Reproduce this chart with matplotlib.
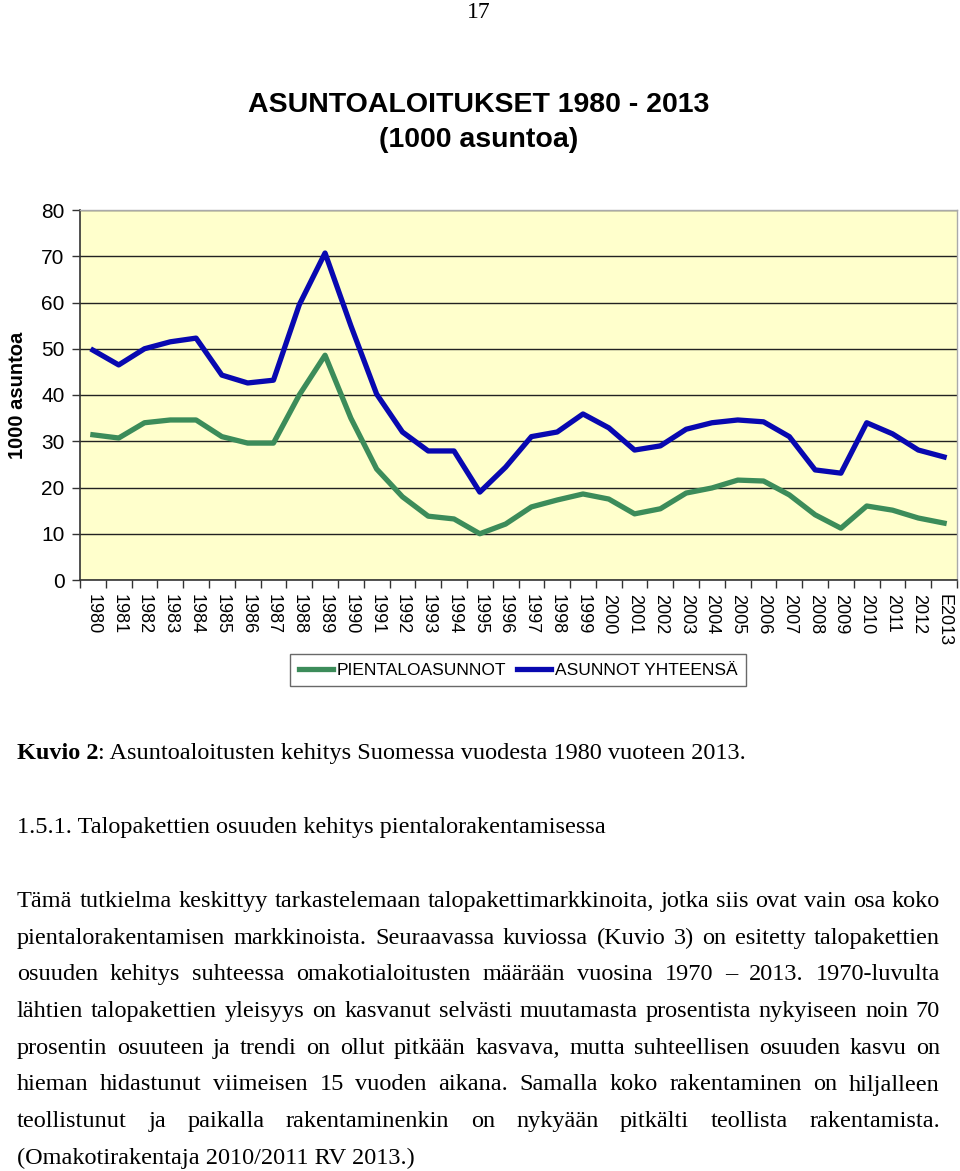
import matplotlib
matplotlib.use("Agg")
import matplotlib.pyplot as plt
import numpy as np

W, H = 960, 1171

years = ["1980", "1981", "1982", "1983", "1984", "1985", "1986", "1987", "1988",
         "1989", "1990", "1991", "1992", "1993", "1994", "1995", "1996", "1997",
         "1998", "1999", "2000", "2001", "2002", "2003", "2004", "2005", "2006",
         "2007", "2008", "2009", "2010", "2011", "2012", "E2013"]

# asunnot yhteensä (1000 asuntoa)
total = [49.7, 46.5, 50.0, 51.5, 52.3, 44.3, 42.6, 43.2, 59.5, 70.7, 55.0, 40.2,
         32.0, 27.9, 27.9, 19.0, 24.4, 31.0, 32.0, 35.9, 32.9, 28.1, 29.0, 32.6,
         34.0, 34.6, 34.2, 31.0, 23.8, 23.1, 34.0, 31.6, 28.1, 26.6]

# pientaloasunnot
detached = [31.4, 30.7, 34.0, 34.6, 34.6, 31.0, 29.6, 29.6, 40.0, 48.6, 35.0, 24.0,
            18.0, 13.8, 13.2, 10.0, 12.1, 15.8, 17.3, 18.6, 17.5, 14.3, 15.4, 18.8,
            19.9, 21.6, 21.4, 18.4, 14.1, 11.2, 16.0, 15.1, 13.4, 12.3]

paragraph = [
    "Tämä tutkielma keskittyy tarkastelemaan talopakettimarkkinoita, jotka siis ovat vain osa koko",
    "pientalorakentamisen markkinoista. Seuraavassa kuviossa (Kuvio 3) on esitetty talopakettien",
    "osuuden kehitys suhteessa omakotialoitusten määrään vuosina 1970 – 2013. 1970-luvulta",
    "lähtien talopakettien yleisyys on kasvanut selvästi muutamasta prosentista nykyiseen noin 70",
    "prosentin osuuteen ja trendi on ollut pitkään kasvava, mutta suhteellisen osuuden kasvu on",
    "hieman hidastunut viimeisen 15 vuoden aikana. Samalla koko rakentaminen on hiljalleen",
    "teollistunut ja paikalla rakentaminenkin on nykyään pitkälti teollista rakentamista.",
    "(Omakotirakentaja 2010/2011 RV 2013.)",
]

SANS = "Liberation Sans"
SERIF = "Liberation Serif"


def px(x, y):
    return x / W, 1 - y / H


def main():
    fig = plt.figure(figsize=(W / 100, H / 100), dpi=100)
    fig.patch.set_facecolor("white")

    ax = fig.add_axes([80 / W, 1 - 580 / H, 877 / W, 370 / H])
    ax.set_facecolor("#FFFFCC")
    x = np.arange(len(years))
    ax.plot(x, detached, color="#3c8c5a", lw=3.8, solid_joinstyle="round",
            label="PIENTALOASUNNOT", zorder=3)
    ax.plot(x, total, color="#0808b0", lw=3.8, solid_joinstyle="round",
            label="ASUNNOT YHTEENSÄ", zorder=3)

    ax.set_xlim(-0.5, len(years) - 0.5)
    ax.set_ylim(0, 80)
    ax.set_yticks(range(0, 81, 10))
    ax.yaxis.grid(True, color="#222222", lw=1.0)
    ax.set_axisbelow(True)
    ax.set_xticks(np.arange(-0.5, len(years), 1.0), minor=False)
    ax.set_xticklabels([])
    ax.set_xticks(x, minor=True)
    ax.set_xticklabels(years, minor=True, rotation=270, fontsize=13,
                       family=SANS, va="top", ha="center")
    ax.tick_params(axis="x", which="major", length=6, width=1, color="#333333")
    ax.tick_params(axis="x", which="minor", length=0, pad=10)
    ax.tick_params(axis="y", length=6, width=1, color="#333333", pad=5,
                   labelsize=15)
    for lab in ax.get_yticklabels():
        lab.set_family(SANS)
    ax.set_ylabel("1000 asuntoa", family=SANS, fontsize=14.5, fontweight="bold",
                  labelpad=10)
    for s in ["left", "bottom"]:
        ax.spines[s].set_color("#333333")
        ax.spines[s].set_linewidth(1.2)
    for s in ["top", "right"]:
        ax.spines[s].set_color("#aaaaaa")
        ax.spines[s].set_linewidth(1.0)

    leg = fig.legend(loc="center", bbox_to_anchor=px(518, 670), ncol=2,
                     frameon=True, fancybox=False, edgecolor="#444444",
                     handlelength=2.0, handletextpad=0.2, columnspacing=0.6,
                     borderpad=0.5, prop={"family": SANS, "size": 12.5})
    leg.get_frame().set_linewidth(1.0)

    fig.text(*px(479, 12), "17", family=SERIF, fontsize=17, ha="center", va="center")
    fig.text(*px(479, 105), "ASUNTOALOITUKSET 1980 - 2013", family=SANS,
             fontsize=20.5, fontweight="bold", ha="center", va="center")
    fig.text(*px(479, 140), "(1000 asuntoa)", family=SANS,
             fontsize=20.5, fontweight="bold", ha="center", va="center")

    fig.canvas.draw()
    renderer = fig.canvas.get_renderer()
    fs = 17.5

    def width_of(t):
        return t.get_window_extent(renderer).width

    # caption
    t = fig.text(*px(17, 759), "Kuvio 2", family=SERIF, fontsize=fs,
                 fontweight="bold", ha="left", va="baseline")
    w = width_of(t)
    fig.text(*px(17 + w, 759), ": Asuntoaloitusten kehitys Suomessa vuodesta 1980 vuoteen 2013.",
             family=SERIF, fontsize=fs, ha="left", va="baseline")
    fig.text(*px(17, 833), "1.5.1. Talopakettien osuuden kehitys pientalorakentamisessa",
             family=SERIF, fontsize=fs, ha="left", va="baseline")

    # justified paragraph
    left, right = 17, 940
    for i, line in enumerate(paragraph):
        y = 907 + i * 36.7
        if i == len(paragraph) - 1:
            fig.text(*px(left, y), line, family=SERIF, fontsize=fs,
                     ha="left", va="baseline")
            continue
        words = line.split(" ")
        texts = [fig.text(*px(left, y), wd, family=SERIF, fontsize=fs,
                          ha="left", va="baseline") for wd in words]
        widths = [width_of(tt) for tt in texts]
        gap = (right - left - sum(widths)) / (len(words) - 1)
        xpos = left
        for tt, wd in zip(texts, widths):
            tt.set_position(px(xpos, y))
            xpos += wd + gap

    fig.savefig("out.png", dpi=100, facecolor="white")


if __name__ == "__main__":
    main()
